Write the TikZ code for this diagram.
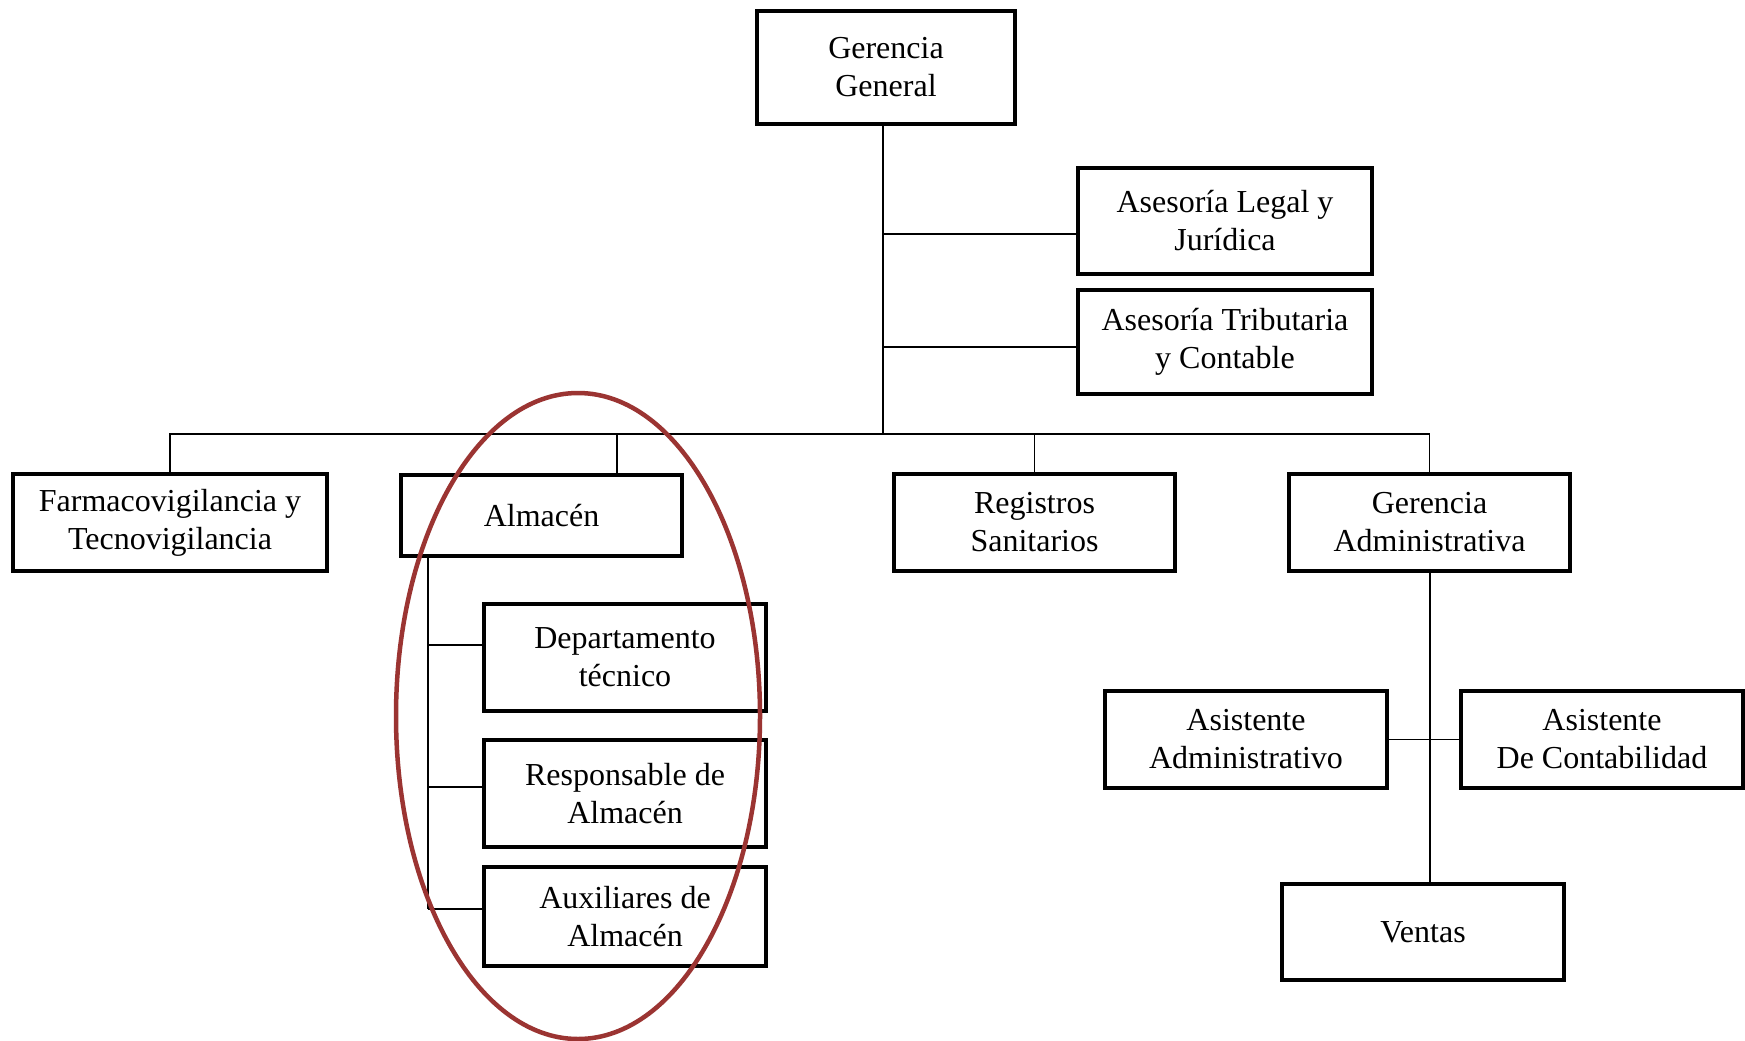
\documentclass[tikz,border=0pt]{standalone}
\usepackage{fontspec}
\setmainfont{Liberation Serif}
\definecolor{ellred}{RGB}{155,52,50}
\begin{document}
\begin{tikzpicture}[x=1pt,y=-1pt,
  box/.style={draw=black,line width=4.5pt,rectangle,align=center,inner sep=0pt,
    font=\fontsize{32}{38}\selectfont},
  conn/.style={line width=1.8pt,draw=black}]
\useasboundingbox (0,0) rectangle (1745,1041);
\fill[white] (0,0) rectangle (1745,1041);
% nodes
\node[box,minimum width=258pt,minimum height=113pt] (gg) at (886,67.5) {Gerencia\\General};
\node[box,minimum width=294pt,minimum height=106pt] (asl) at (1225,221) {Asesoría Legal y\\Jurídica};
\node[box,minimum width=294pt,minimum height=104pt] (ast) at (1225,342) {Asesoría Tributaria\\y Contable};
\node[box,minimum width=314pt,minimum height=97pt] (farm) at (170,522.5) {Farmacovigilancia y\\Tecnovigilancia};
\node[box,minimum width=281pt,minimum height=81pt] (alm) at (541.5,515.5) {Almacén};
\node[box,minimum width=281pt,minimum height=97pt] (reg) at (1034.5,522.5) {Registros\\Sanitarios};
\node[box,minimum width=281pt,minimum height=97pt] (gadm) at (1429.5,522.5) {Gerencia\\Administrativa};
\node[box,minimum width=282pt,minimum height=107pt] (dep) at (625,657.5) {Departamento\\técnico};
\node[box,minimum width=282pt,minimum height=107pt] (resp) at (625,793.5) {Responsable de\\Almacén};
\node[box,minimum width=282pt,minimum height=99pt] (aux) at (625,916.5) {Auxiliares de\\Almacén};
\node[box,minimum width=282pt,minimum height=97pt] (asa) at (1246,739.5) {Asistente\\Administrativo};
\node[box,minimum width=282pt,minimum height=97pt] (asc) at (1602,739.5) {Asistente\\De Contabilidad};
\node[box,minimum width=282pt,minimum height=96pt] (ven) at (1423,932) {Ventas};
% coordinates
\coordinate (bus) at (883,434);
\coordinate (almtop) at (617,434);
\coordinate (b1) at (883,234);
\coordinate (b2) at (883,347);
\coordinate (av) at (428,0);
\coordinate (gv) at (1430,0);
% connectors
\draw[conn] (gg.south -| bus) -- (bus);
\draw[conn] (b1) -- (asl.west |- b1);
\draw[conn] (b2) -- (ast.west |- b2);
\draw[conn] (farm.north) -- (farm.north |- bus) -- (gadm.north |- bus) -- (gadm.north);
\draw[conn] (almtop) -- (almtop |- alm.north);
\draw[conn] (reg.north) -- (reg.north |- bus);
% Almacen sub
\draw[conn] (av |- alm.south) -- (av |- 0,909);
\draw[conn] (av |- 0,645) -- (dep.west |- 0,645);
\draw[conn] (av |- 0,787) -- (resp.west |- 0,787);
\draw[conn] (av |- 0,909) -- (aux.west |- 0,909);
% Gerencia admin sub
\draw[conn] (gv |- gadm.south) -- (gv |- ven.north);
\draw[conn] (asa.east) -- (asc.west);
% ellipse
\draw[ellred,line width=4.5pt] (578,716) ellipse [x radius=182pt,y radius=323pt];
\end{tikzpicture}
\end{document}
